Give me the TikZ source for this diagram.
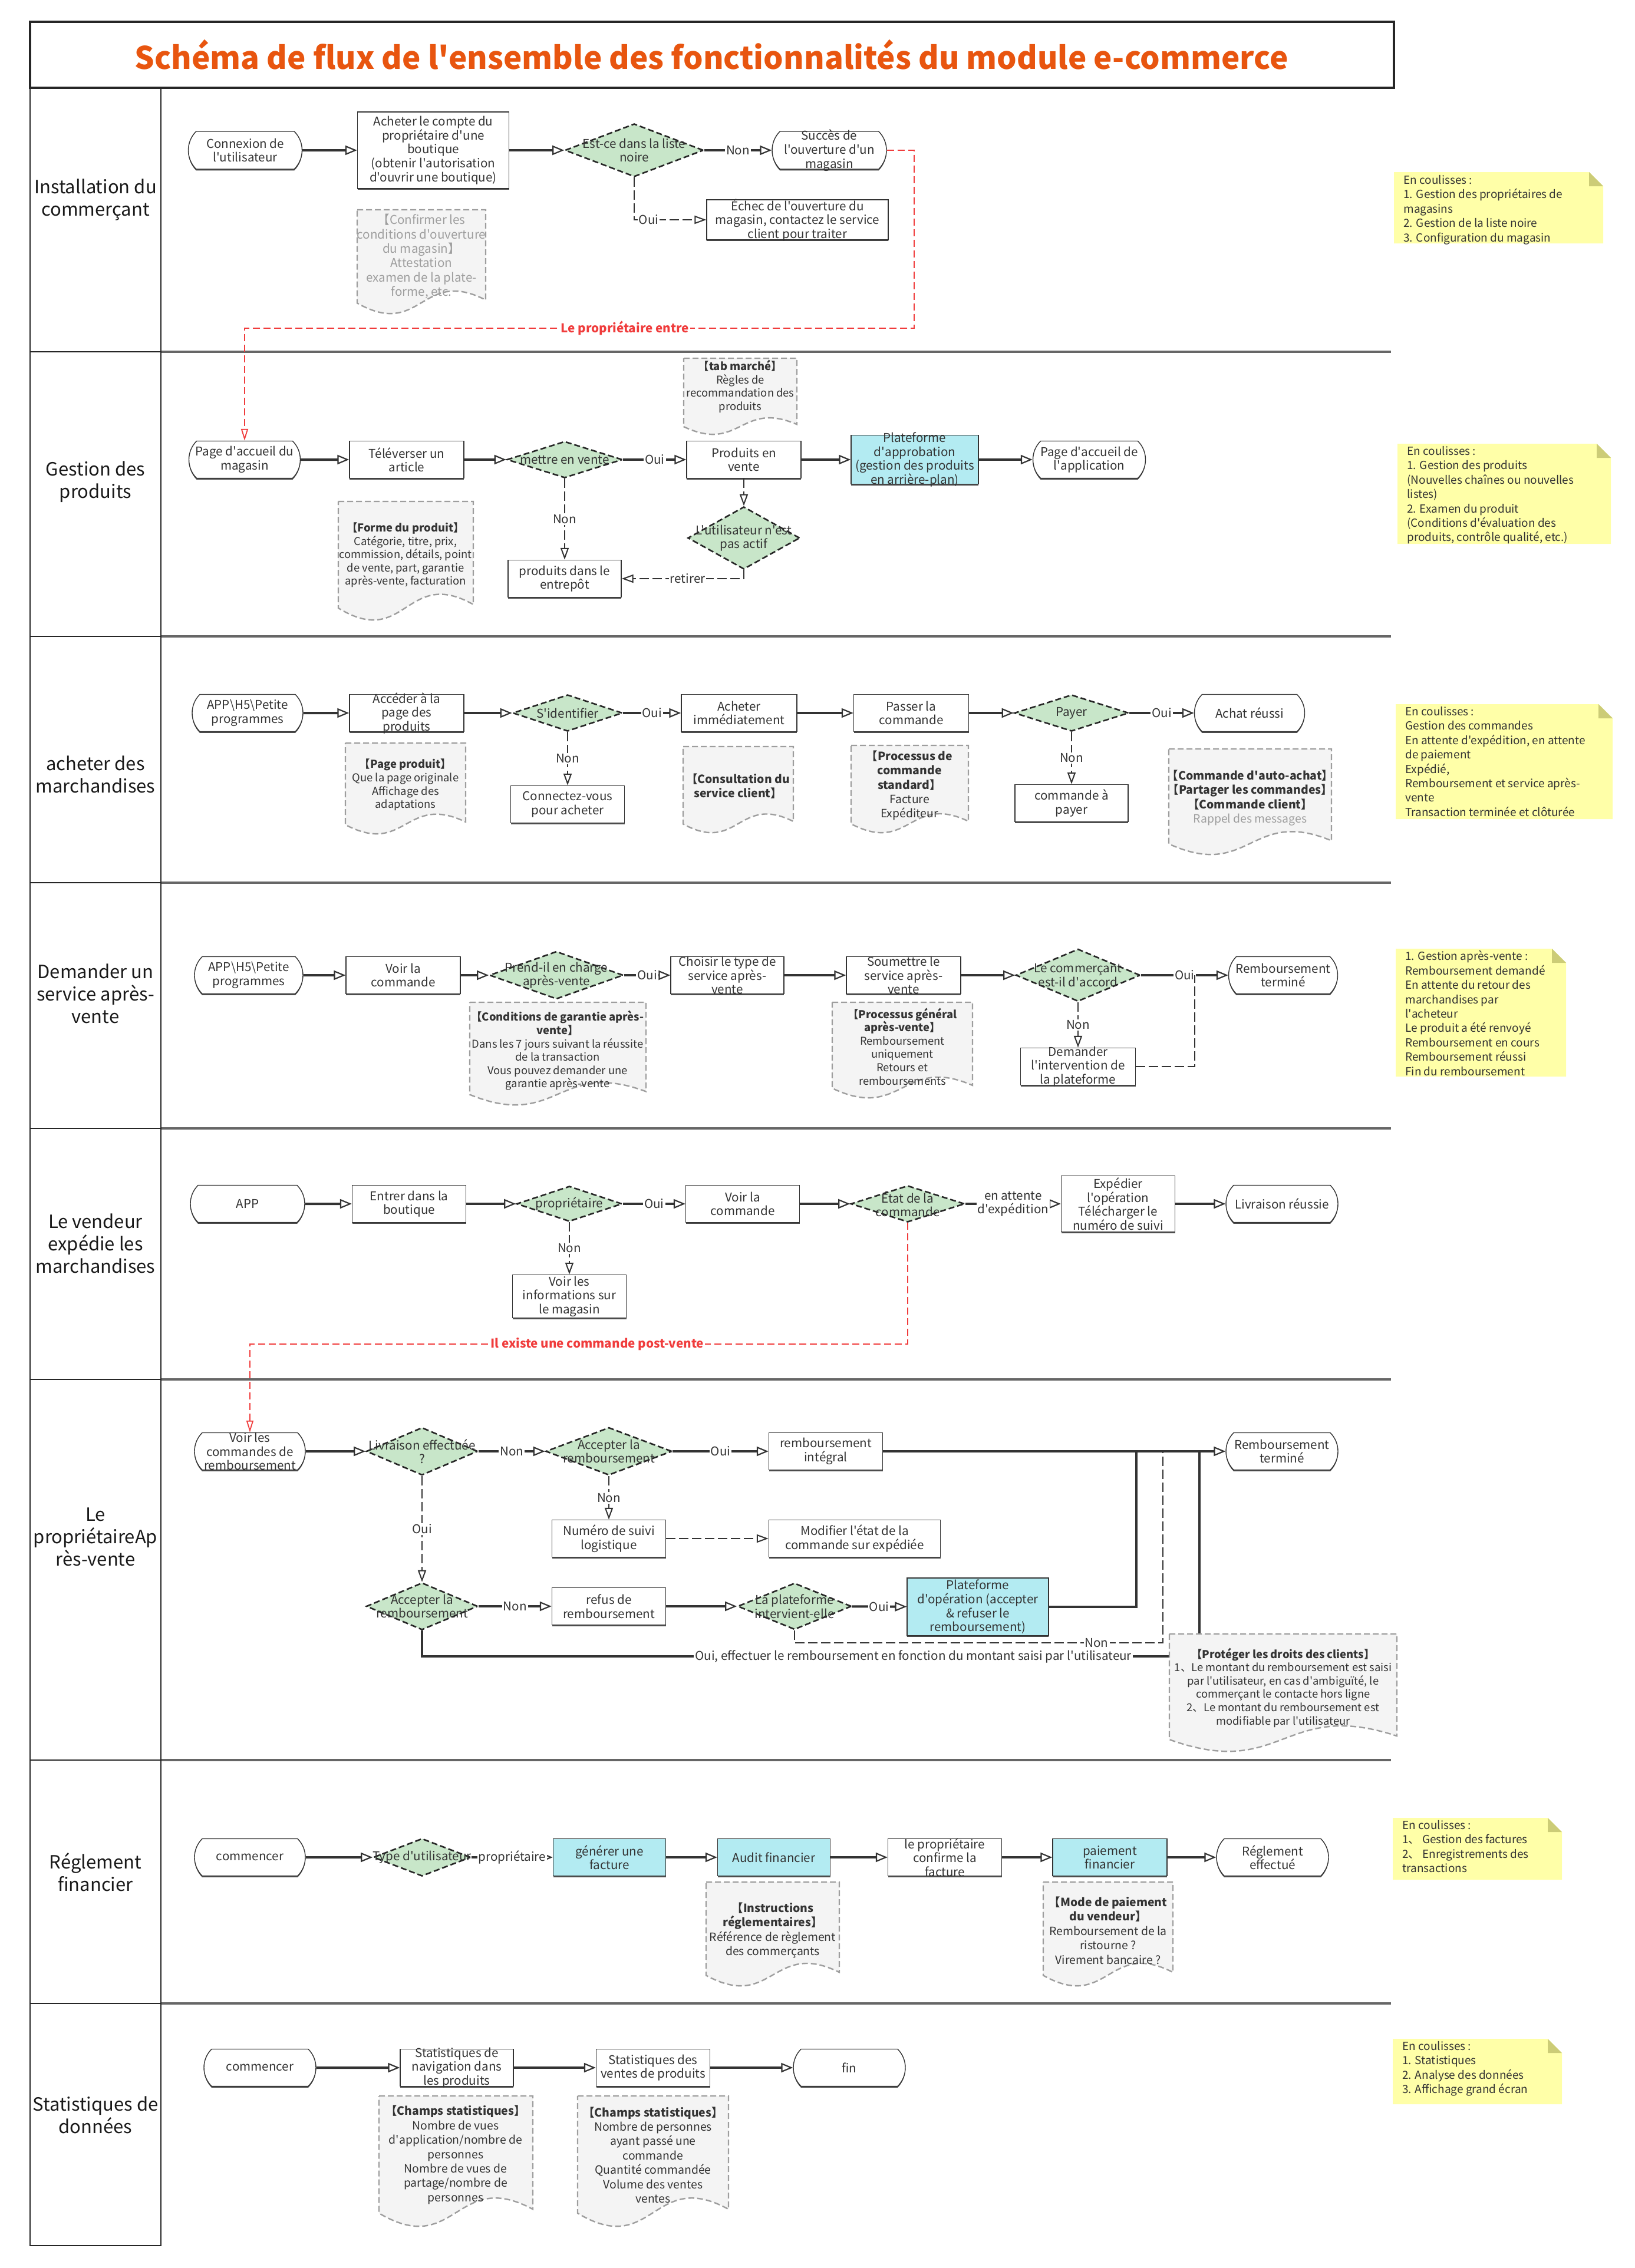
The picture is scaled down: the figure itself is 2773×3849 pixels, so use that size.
\documentclass[tikz,border=0pt]{standalone}
\usepackage{fontspec}
\setmainfont{Noto Sans CJK SC}[Ligatures=TeXOff]
\usetikzlibrary{arrows.meta,shapes.geometric,shapes.misc,shadows}
\definecolor{txt}{HTML}{333333}
\definecolor{linec}{HTML}{333333}
\definecolor{redc}{HTML}{F03C3C}
\definecolor{titlec}{HTML}{E8550F}
\definecolor{greenf}{HTML}{C8E6C9}
\definecolor{cyanf}{HTML}{B3EBF2}
\definecolor{docf}{HTML}{F4F4F4}
\definecolor{docd}{HTML}{9E9E9E}
\definecolor{ynf}{HTML}{FFFFA8}
\definecolor{ync}{HTML}{CCCC77}
\definecolor{sepc}{HTML}{666666}
\tikzset{
 base/.style={font=\fontsize{10.3}{11.8}\selectfont, text=txt, align=center, inner sep=0pt},
 T/.style={label={[base]center:{#1}}},
 shp/.style={draw=black!80, line width=0.7pt, fill=white, inner sep=0pt, minimum height=31.5pt,
   drop shadow={shadow xshift=0pt,shadow yshift=-1.2pt,opacity=1,fill=black!70}},
 box/.style={shp, rectangle, minimum width=#1},
 cbox/.style={box=#1, fill=cyanf},
 term/.style={shp, rounded rectangle, rounded rectangle arc length=90, minimum width=#1},
 dec/.style 2 args={diamond, draw=black!85, line width=1.3pt, dash pattern=on 5pt off 2.5pt,
   fill=greenf, inner sep=0pt, minimum width=#1, minimum height=#2},
 fl/.style={draw=linec, line width=2pt, -{Triangle[open,length=10pt,width=8pt,line width=1.1pt]}},
 fl0/.style={draw=linec, line width=2pt},
 dfl/.style={draw=linec, line width=1.3pt, dash pattern=on 8pt off 3pt, -{Triangle[open,length=10pt,width=7pt,line width=1pt]}},
 dfl0/.style={draw=linec, line width=1.3pt, dash pattern=on 8pt off 3pt},
 rfl/.style={draw=redc, line width=1.2pt, dash pattern=on 6pt off 3pt, -{Triangle[open,length=10pt,width=6pt,line width=0.9pt]}},
 lbl/.style={base, fill=white, inner sep=1pt},
 rlbl/.style={lbl, text=redc, font=\fontsize{10.3}{12}\selectfont\bfseries},
 docs/.style={fill=docf, draw=docd, line width=1.2pt, dash pattern=on 5pt off 2.5pt},
 nt/.style={base, font=\fontsize{9.2}{11.3}\selectfont},
 ntb/.style={base, font=\fontsize{9.7}{12.2}\selectfont},
 yt/.style={font=\fontsize{9.5}{12.2}\selectfont, text=txt, align=left, inner sep=0pt, anchor=north west},
 ll/.style={font=\fontsize{15.5}{19}\selectfont, text=black!90, align=center},
 frm/.style={draw=black!85, line width=1.4pt},
 tfrm/.style={draw=black!85, line width=2pt},
 sepl/.style={draw=sepc, line width=2pt},
 ttl/.style={font=\fontsize{26.4}{30}\selectfont\bfseries, text=titlec}
}
\newcommand\docnote[4]{%
 \draw[docs] (#1,#2) -- (#3,#2) -- (#3,{#2+0.87*(#4-#2)}) .. controls ({0.5*(#1+#3)},{#2+0.55*(#4-#2)}) and ({0.5*(#1+#3)},{#2+1.25*(#4-#2)}) .. (#1,{#2+0.9*(#4-#2)}) -- cycle;}
\newcommand\ynote[4]{%
 \fill[ynf] (#1,#2) -- ({#3-24},#2) -- (#3,{#2+24}) -- (#3,#4) -- (#1,#4) -- cycle;
 \fill[ync] ({#3-24},#2) -- ({#3-24},{#2+24}) -- (#3,{#2+24}) -- cycle;}
\begin{document}
\begin{tikzpicture}[x=0.5pt,y=-0.5pt]
\useasboundingbox (0,0) rectangle (2773,3849);
\fill[white] (0,0) rectangle (2773,3849);
% ---------- frame
\foreach \yy in {597,1080,1498,1915,2341,2987,3400} {\draw[sepl] (273,\yy) -- (2360,\yy); \draw[frm] (51,\yy) -- (273,\yy);}
\draw[frm] (51,149) -- (51,3811) -- (273,3811) -- (273,149);
\draw[tfrm] (51,37) rectangle (2365,149);
\node[ttl] (title) at (1207,93) {Schéma de flux de l'ensemble des fonctionnalités du module e-commerce};
% ---------- lane labels
\node[ll] (L1) at (162,339) {Installation du\\commerçant};
\node[ll] (L2) at (162,818) {Gestion des\\produits};
\node[ll] (L3) at (162,1314) {acheter des\\marchandises};
\node[ll] (L4) at (162,1686) {Demander un\\service après-\\vente};
\node[ll] (L5) at (162,2110) {Le vendeur\\expédie les\\marchandises};
\node[ll] (L6) at (162,2608) {Le\\propriétaireAp\\rès-vente};
\node[ll] (L7) at (162,3177) {Réglement\\financier};
\node[ll] (L8) at (162,3589) {Statistiques de\\données};
% ---------- lane 1
\node[term=96.5pt, minimum height=32pt, T={Connexion de\\l'utilisateur}] (a1) at (416,255) {};
\node[box=128.5pt, minimum height=65pt, T={Acheter le compte du\\propriétaire d'une\\boutique\\(obtenir l'autorisation\\d'ouvrir une boutique)}] (a2) at (735,255) {};
\node[dec={117.5pt}{45pt}, T={Est-ce dans la liste\\noire}] (a3) at (1076,255) {};
\node[term=97pt, minimum height=32pt, T={Succès de\\l'ouverture d'un\\magasin}] (a4) at (1407,255) {};
\node[box=154pt, minimum height=34pt, T={Échec de l'ouverture du\\magasin, contactez le service\\client pour traiter}] (a5) at (1353,373) {};
% ---------- lane 2
\node[term=94.5pt, T={Page d'accueil du\\magasin}] (b1) at (415,780) {};
\node[box=97pt, T={Téléverser un\\article}] (b2) at (690,780) {};
\node[dec={98pt}{31pt}, T={mettre en vente}] (b3) at (958,780) {};
\node[box=97pt, T={Produits en\\vente}] (b4) at (1262,780) {};
\node[cbox=108pt, minimum height=41.5pt, T={Plateforme\\d'approbation\\(gestion des produits\\en arrière-plan)}] (b5) at (1552,780) {};
\node[term=95.5pt, T={Page d'accueil de\\l'application}] (b6) at (1848,780) {};
\node[dec={95pt}{53pt}, T={L'utilisateur n'est\\pas actif}] (b7) at (1262,913) {};
\node[box=96pt, T={produits dans le\\entrepôt}] (b8) at (958,982) {};
% ---------- lane 3
\node[term=94pt, T={APP\textbackslash H5\textbackslash Petite\\programmes}] (c1) at (420,1210) {};
\node[box=97pt, T={Accéder à la\\page des\\produits}] (c2) at (690,1210) {};
\node[dec={93pt}{31pt}, T={S'identifier}] (c3) at (963,1210) {};
\node[box=98pt, T={Acheter\\immédiatement}] (c4) at (1254,1210) {};
\node[box=97.5pt, T={Passer la\\commande}] (c5) at (1546,1210) {};
\node[dec={97pt}{31pt}, T={Payer}] (c6) at (1818,1210) {};
\node[term=93.5pt, T={Achat réussi}] (c7) at (2120,1210) {};
\node[box=96.5pt, T={Connectez-vous\\pour acheter}] (c8) at (963,1365) {};
\node[box=96pt, T={commande à\\payer}] (c9) at (1818,1363) {};
% ---------- lane 4
\node[term=92pt, T={APP\textbackslash H5\textbackslash Petite\\programmes}] (d1) at (422,1655) {};
\node[box=97pt, T={Voir la\\commande}] (d2) at (684,1655) {};
\node[dec={113.5pt}{40.5pt}, T={Prend-il en charge\\après-vente}] (d3) at (944,1655) {};
\node[box=96pt, T={Choisir le type de\\service après-\\vente}] (d4) at (1234,1655) {};
\node[box=97pt, T={Soumettre le\\service après-\\vente}] (d5) at (1533,1655) {};
\node[dec={105.5pt}{44.5pt}, T={Le commerçant\\est-il d'accord}] (d6) at (1829,1655) {};
\node[term=92.5pt, T={Remboursement\\terminé}] (d7) at (2177,1655) {};
\node[box=97.5pt, T={Demander\\l'intervention de\\la plateforme}] (d8) at (1829,1810) {};
% ---------- lane 5
\node[term=97pt, T={APP}] (e1) at (420,2043) {};
\node[box=96.5pt, T={Entrer dans la\\boutique}] (e2) at (694,2043) {};
\node[dec={89.5pt}{30pt}, T={propriétaire}] (e3) at (966,2043) {};
\node[box=96.5pt, T={Voir la\\commande}] (e4) at (1260,2043) {};
\node[dec={96.5pt}{31pt}, T={État de la\\commande}] (e5) at (1540,2043) {};
\node[box=96.5pt, minimum height=47.5pt, T={Expédier\\l'opération\\Télécharger le\\numéro de suivi}] (e6) at (1897,2043) {};
\node[term=95pt, T={Livraison réussie}] (e7) at (2175,2043) {};
\node[box=96.5pt, minimum height=36.5pt, T={Voir les\\informations sur\\le magasin}] (e8) at (966,2200) {};
% ---------- lane 6
\node[term=94pt, T={Voir les\\commandes de\\remboursement}] (f1) at (424,2463) {};
\node[dec={94.5pt}{40.5pt}, T={Livraison effectuée\\?}] (f2) at (716,2463) {};
\node[dec={107pt}{40.5pt}, T={Accepter la\\remboursement}] (f3) at (1033,2463) {};
\node[box=96.5pt, T={remboursement\\intégral}] (f4) at (1401,2463) {};
\node[term=95pt, T={Remboursement\\terminé}] (f5) at (2175,2463) {};
\node[box=96.5pt, T={Numéro de suivi\\logistique}] (f6) at (1033,2611) {};
\node[box=145.5pt, T={Modifier l'état de la\\commande sur expédiée}] (f7) at (1450,2611) {};
\node[dec={94.5pt}{40pt}, T={Accepter la\\remboursement}] (f8) at (716,2726) {};
\node[box=96.5pt, T={refus de\\remboursement}] (f9) at (1033,2726) {};
\node[dec={96.5pt}{39.5pt}, T={La plateforme\\intervient-elle}] (f10) at (1348,2726) {};
\node[cbox=120pt, minimum height=49pt, T={Plateforme\\d'opération (accepter\\\& refuser le\\remboursement)}] (f11) at (1659,2727) {};
% ---------- lane 7
\node[term=94pt, T={commencer}] (g1) at (424,3152) {};
\node[dec={82.5pt}{32pt}, T={Type d'utilisateur}] (g2) at (716,3152) {};
\node[cbox=95.5pt, T={générer une\\facture}] (g3) at (1034,3152) {};
\node[cbox=95.5pt, T={Audit financier}] (g4) at (1313,3152) {};
\node[box=96.5pt, T={le propriétaire\\confirme la\\facture}] (g5) at (1603,3152) {};
\node[cbox=97pt, T={paiement\\financier}] (g6) at (1883,3152) {};
\node[term=95pt, T={Réglement\\effectué}] (g7) at (2159,3152) {};
% ---------- lane 8
\node[term=95pt, T={commencer}] (h1) at (441,3509) {};
\node[box=96pt, T={Statistiques de\\navigation dans\\les produits}] (h2) at (775,3509) {};
\node[box=96.5pt, T={Statistiques des\\ventes de produits}] (h3) at (1108,3509) {};
\node[term=95pt, T={fin}] (h4) at (1441,3509) {};
% ---------- connectors lane 1
\draw[fl] (a1) -- (a2);
\draw[fl] (a2) -- (a3);
\draw[fl] (a3) -- node[lbl]{Non} (a4);
\draw[dfl] (a3.south) |- node[lbl,pos=0.6]{Oui} (a5.west);
\coordinate (r1) at (1551,557);
\draw[rfl] (a4.east) -| (r1) -| node[rlbl,pos=0.216]{Le propriétaire entre} (b1.north);
% lane 2
\draw[fl] (b1) -- (b2);
\draw[fl] (b2) -- (b3);
\draw[fl] (b3) -- node[lbl]{Oui} (b4);
\draw[fl] (b4) -- (b5);
\draw[fl] (b5) -- (b6);
\draw[dfl] (b3) -- node[lbl]{Non} (b8);
\draw[dfl] (b4) -- (b7);
\draw[dfl] (b7.south) |- node[lbl,pos=0.73]{retirer} (b8.east);
% lane 3
\draw[fl] (c1) -- (c2);
\draw[fl] (c2) -- (c3);
\draw[fl] (c3) -- node[lbl]{Oui} (c4);
\draw[fl] (c4) -- (c5);
\draw[fl] (c5) -- (c6);
\draw[fl] (c6) -- node[lbl]{Oui} (c7);
\draw[dfl] (c3) -- node[lbl]{Non} (c8);
\draw[dfl] (c6) -- node[lbl]{Non} (c9);
% lane 4
\draw[fl] (d1) -- (d2);
\draw[fl] (d2) -- (d3);
\draw[fl] (d3) -- node[lbl]{Oui} (d4);
\draw[fl] (d4) -- (d5);
\draw[fl] (d5) -- (d6);
\draw[fl] (d6) -- node[lbl]{Oui} (d7);
\draw[dfl] (d6) -- node[lbl]{Non} (d8);
\coordinate (j4) at (2027,1655);
\draw[dfl0] (d8.east) -| (j4);
% lane 5
\draw[fl] (e1) -- (e2);
\draw[fl] (e2) -- (e3);
\draw[fl] (e3) -- node[lbl]{Oui} (e4);
\draw[fl] (e4) -- (e5);
\draw[fl] (e5) -- node[lbl]{en attente\\d'expédition} (e6);
\draw[fl] (e6) -- (e7);
\draw[dfl] (e3) -- node[lbl]{Non} (e8);
\coordinate (r2) at (424,2281);
\draw[rfl] (e5.south) |- node[rlbl,pos=0.736]{Il existe une commande post-vente} (r2) -- (f1.north);
% lane 6
\draw[fl] (f1) -- (f2);
\draw[fl] (f2) -- node[lbl]{Non} (f3);
\draw[fl] (f3) -- node[lbl]{Oui} (f4);
\draw[fl] (f4) -- (f5);
\draw[dfl] (f2) -- node[lbl]{Oui} (f8);
\draw[dfl] (f3) -- node[lbl]{Non} (f6);
\draw[dfl] (f6) -- (f7);
\draw[fl] (f8) -- node[lbl]{Non} (f9);
\draw[fl] (f9) -- (f10);
\draw[fl] (f10) -- node[lbl]{Oui} (f11);
\coordinate (j6a) at (1928,2463);
\draw[fl0] (f11.east) -| (j6a);
\coordinate (j6b) at (1973,2788);
\coordinate (j6c) at (1973,2463);
\draw[dfl0] (f10.south) |- node[lbl,pos=0.91]{Non} (j6b) -- (j6c);
\coordinate (j6d) at (2035,2811);
\coordinate (j6e) at (2035,2463);
\draw[fl0] (f8.south) |- node[lbl,pos=0.816]{Oui, effectuer le remboursement en fonction du montant saisi par l'utilisateur} (j6d) -- (j6e);
% lane 7
\draw[fl] (g1) -- (g2);
\draw[fl] (g2) -- node[lbl]{propriétaire} (g3);
\draw[fl] (g3) -- (g4);
\draw[fl] (g4) -- (g5);
\draw[fl] (g5) -- (g6);
\draw[fl] (g6) -- (g7);
% lane 8
\draw[fl] (h1) -- (h2);
\draw[fl] (h2) -- (h3);
\draw[fl] (h3) -- (h4);
% ---------- document notes
\docnote{606}{356}{824}{532}
\node[ntb, font=\fontsize{10.3}{12.2}\selectfont, text=docd] (na6) at (715,435) {【Confirmer les\\conditions d'ouverture\\du magasin】\\Attestation\\examen de la plate-\\forme, etc.};
\docnote{1160}{608}{1352}{737}
\node[nt] (nb1) at (1256,656) {\textbf{【tab marché】}\\Règles de\\recommandation des\\produits};
\docnote{574}{851}{803}{1052}
\node[nt] (nb2) at (688,942) {\textbf{【Forme du produit】}\\Catégorie, titre, prix,\\commission, détails, point\\de vente, part, garantie\\après-vente, facturation};
\docnote{586}{1261}{790}{1415}
\node[nt] (nc1) at (688,1332) {\textbf{【Page produit】}\\Que la page originale\\Affichage des\\adaptations};
\docnote{1159}{1267}{1346}{1413}
\node[ntb] (nc2) at (1252,1334) {\textbf{【Consultation du}\\\textbf{service client】}};
\docnote{1444}{1265}{1643}{1413}
\node[ntb] (nc3) at (1543,1333) {\textbf{【Processus de}\\\textbf{commande}\\\textbf{standard】}\\Facture\\Expéditeur};
\docnote{1983}{1271}{2259}{1450}
\node[ntb] (nc4) at (2121,1354) {\textbf{【Commande d'auto-achat】}\\\textbf{【Partager les commandes】}\\\textbf{【Commande client】}\\\textcolor{docd}{Rappel des messages}};
\docnote{797}{1701}{1096}{1875}
\node[nt] (nd1) at (946,1783) {\textbf{【Conditions de garantie après-}\\\textbf{vente】}\\Dans les 7 jours suivant la réussite\\de la transaction\\Vous pouvez demander une\\garantie après-vente};
\docnote{1412}{1701}{1650}{1863}
\node[nt] (nd2) at (1531,1776) {\textbf{【Processus général}\\\textbf{après-vente】}\\Remboursement\\uniquement\\Retours et\\remboursements};
\docnote{1984}{2773}{2370}{2972}
\node[nt] (nf1) at (2177,2864) {\textbf{【Protéger les droits des clients】}\\1、Le montant du remboursement est saisi\\par l'utilisateur, en cas d'ambiguïté, le\\commerçant le contacte hors ligne\\2、Le montant du remboursement est\\modifiable par l'utilisateur};
\docnote{1198}{3194}{1424}{3370}
\node[ntb] (ng1) at (1311,3276) {\textbf{【Instructions}\\\textbf{réglementaires】}\\Référence de règlement\\des commerçants};
\docnote{1770}{3194}{1990}{3370}
\node[ntb] (ng2) at (1880,3276) {\textbf{【Mode de paiement}\\\textbf{du vendeur】}\\Remboursement de la\\ristourne ?\\Virement bancaire ?};
\docnote{643}{3557}{904}{3778}
\node[ntb] (nh1) at (773,3657) {\textbf{【Champs statistiques】}\\Nombre de vues\\d'application/nombre de\\personnes\\Nombre de vues de\\partage/nombre de\\personnes};
\docnote{980}{3557}{1236}{3778}
\node[ntb] (nh2) at (1108,3657) {\textbf{【Champs statistiques】}\\Nombre de personnes\\ayant passé une\\commande\\Quantité commandée\\Volume des ventes\\ventes};
% ---------- yellow notes
\ynote{2365}{292}{2720}{413}
\node[yt] (y1) at (2381,297) {En coulisses :\\1. Gestion des propriétaires de\\magasins\\2. Gestion de la liste noire\\3. Configuration du magasin};
\ynote{2371}{753}{2733}{923}
\node[yt] (y2) at (2387,757) {En coulisses :\\1. Gestion des produits\\(Nouvelles chaînes ou nouvelles\\listes)\\2. Examen du produit\\(Conditions d'évaluation des\\produits, contrôle qualité, etc.)};
\ynote{2368}{1195}{2736}{1390}
\node[yt] (y3) at (2384,1199) {En coulisses :\\Gestion des commandes\\En attente d'expédition, en attente\\de paiement\\Expédié,\\Remboursement et service après-\\vente\\Transaction terminée et clôturée};
\ynote{2368}{1610}{2657}{1827}
\node[yt] (y4) at (2384,1613) {1. Gestion après-vente :\\Remboursement demandé\\En attente du retour des\\marchandises par\\l'acheteur\\Le produit a été renvoyé\\Remboursement en cours\\Remboursement réussi\\Fin du remboursement};
\ynote{2363}{3085}{2650}{3190}
\node[yt] (y5) at (2379,3089) {En coulisses :\\1、 Gestion des factures\\2、 Enregistrements des\\transactions};
\ynote{2363}{3460}{2650}{3571}
\node[yt] (y6) at (2379,3464) {En coulisses :\\1. Statistiques\\2. Analyse des données\\3. Affichage grand écran};
\end{tikzpicture}
\end{document}
